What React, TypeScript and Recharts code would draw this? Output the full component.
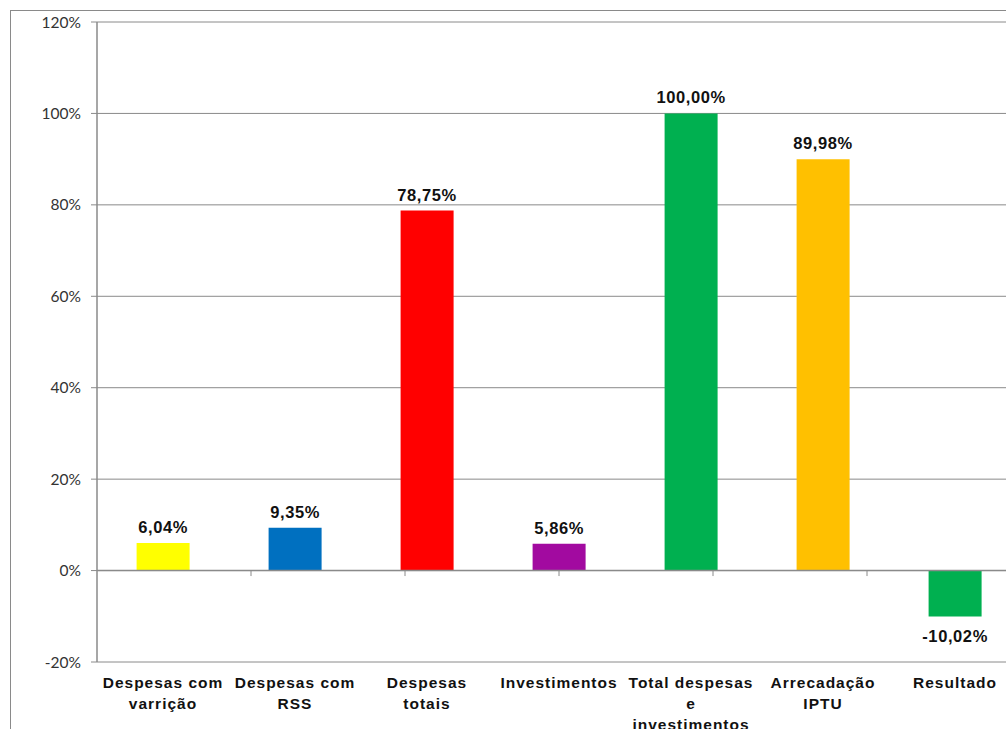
import React from "react";
import {
  BarChart,
  Bar,
  XAxis,
  YAxis,
  CartesianGrid,
  ReferenceLine,
  LabelList,
  Cell,
} from "recharts";

// Category names ("\n" marks a line break in the axis label)
const categories: string[] = [
  "Despesas com\nvarrição",
  "Despesas com\nRSS",
  "Despesas\ntotais",
  "Investimentos",
  "Total despesas\ne\ninvestimentos",
  "Arrecadação\nIPTU",
  "Resultado",
];

// Share of each item, in percent
const values: number[] = [6.04, 9.35, 78.75, 5.86, 100.0, 89.98, -10.02];

// Bar fill per category
const colors: string[] = [
  "#FFFF00",
  "#0070C0",
  "#FF0000",
  "#A20AA0",
  "#00B050",
  "#FFC000",
  "#00B050",
];

// Y axis ticks, in percent
const yTicks: number[] = [-20, 0, 20, 40, 60, 80, 100, 120];

// Boundaries between categories (used for the small ticks on the zero line)
const boundaries: number[] = [1, 2, 3, 4, 5, 6];

const data = categories.map((name, i) => ({ name, value: values[i] }));

const GRID = "#8a8a8a";
const LABEL_FONT = "'Liberation Sans', Arial, sans-serif";

const fmt = (v: number) => v.toFixed(2).replace(".", ",") + "%";

const CategoryTick = (props: any) => {
  const { x, y, payload } = props;
  const lines = String(payload.value).split("\n");
  return (
    <text
      x={x}
      y={y}
      textAnchor="middle"
      fontFamily={LABEL_FONT}
      fontWeight="bold"
      fontSize={15.5}
      letterSpacing={1}
      fill="#111"
    >
      {lines.map((ln, i) => (
        <tspan key={i} x={x} dy={i === 0 ? 26 : 21}>
          {ln}
        </tspan>
      ))}
    </text>
  );
};

const ValueLabel = (props: any) => {
  const { x, y, width, height, value } = props;
  const top = Math.min(y, y + height);
  const bottom = Math.max(y, y + height);
  const cx = x + width / 2;
  const ty = value >= 0 ? top - 10 : bottom + 26;
  return (
    <text
      x={cx}
      y={ty}
      textAnchor="middle"
      fontFamily={LABEL_FONT}
      fontWeight="bold"
      fontSize={16.5}
      letterSpacing={0.6}
      fill="#111"
    >
      {fmt(value)}
    </text>
  );
};

export default function App() {
  return (
    <div
      style={{
        position: "fixed",
        left: 0,
        top: 0,
        width: 1006,
        height: 729,
        overflow: "hidden",
        background: "#fff",
      }}
    >
      <div
        style={{
          position: "absolute",
          left: 10,
          top: 10,
          width: 1100,
          height: 900,
          border: "1px solid #8a8a8a",
          boxSizing: "border-box",
        }}
      />
      <div style={{ position: "absolute", left: 0, top: 0 }}>
        <BarChart
          width={1040}
          height={745}
          data={data}
          margin={{ top: 22, right: 19, bottom: 0, left: 0 }}
          barCategoryGap="30%"
        >
          <CartesianGrid horizontal vertical={false} stroke={GRID} strokeWidth={1} />
          <XAxis
            dataKey="name"
            interval={0}
            axisLine={false}
            tickLine={false}
            tickSize={0}
            tickMargin={0}
            height={83}
            tick={<CategoryTick />}
          />
          <XAxis xAxisId="band" type="number" domain={[0, 7]} hide />
          <YAxis
            domain={[-20, 120]}
            ticks={yTicks}
            interval={0}
            width={97}
            tickFormatter={(v: number) => `${v}%`}
            axisLine={{ stroke: GRID, strokeWidth: 1.5 }}
            tickLine={{ stroke: GRID }}
            tickSize={6}
            tickMargin={10}
            tick={{ fontFamily: "Lato, sans-serif", fontSize: 15.5, fill: "#333" }}
          />
          <ReferenceLine y={0} stroke={GRID} strokeWidth={1.5} />
          {boundaries.map((b) => (
            <ReferenceLine
              key={b}
              xAxisId="band"
              segment={[
                { x: b, y: 0 },
                { x: b, y: -1.2 },
              ]}
              stroke={GRID}
            />
          ))}
          <Bar dataKey="value" isAnimationActive={false}>
            {data.map((d, i) => (
              <Cell key={d.name} fill={colors[i]} />
            ))}
            <LabelList dataKey="value" content={<ValueLabel />} />
          </Bar>
        </BarChart>
      </div>
    </div>
  );
}
